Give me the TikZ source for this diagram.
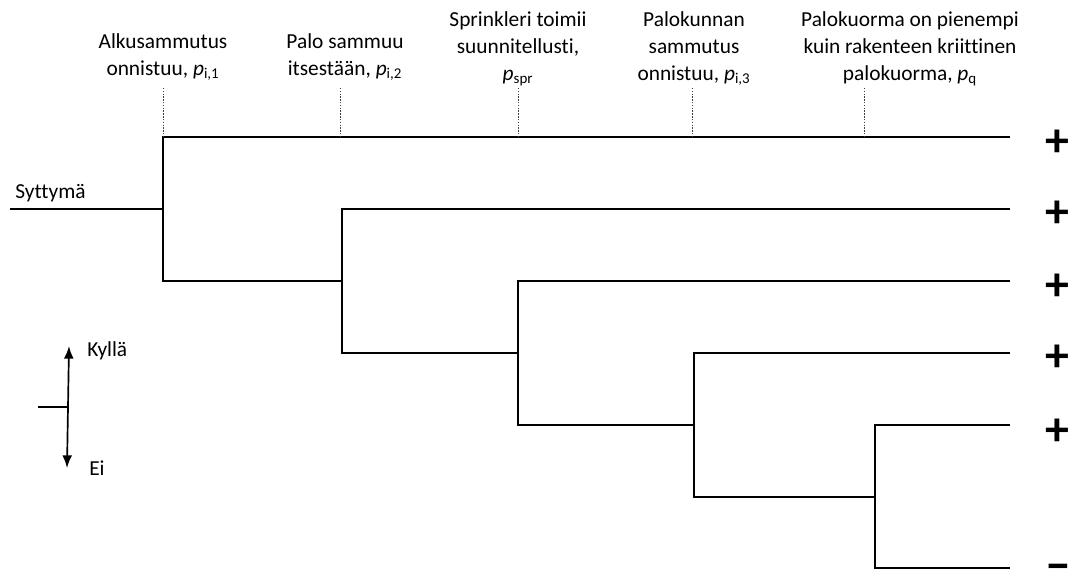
\documentclass[tikz,border=0pt]{standalone}
\usepackage{fontspec}
\setmainfont[Ligatures=NoCommon]{Carlito}
\usetikzlibrary{arrows.meta}

\begin{document}
\begin{tikzpicture}[x=0.025cm, y=-0.025cm, font=\fontsize{15.2}{19.2}\selectfont,
  branch/.style = {line width=1.2pt},
  guide/.style = {dash pattern=on 1pt off 1pt, line width=0.5pt, black!75},
  label/.style = {align=center, anchor=south, inner sep=0pt},
  sign/.style = {font=\fontsize{34}{34}\selectfont\bfseries, inner sep=0pt, anchor=base}]
\useasboundingbox (0,0) rectangle (1072,577);

% branch points
\coordinate (0) at (10,209);
\coordinate (1) at (163,209);
\coordinate (2) at (342,281);
\coordinate (3) at (518,353);
\coordinate (4) at (694,425);
\coordinate (5) at (875,497);
\coordinate (1b) at (163,281);
\coordinate (2b) at (342,353);
\coordinate (3b) at (518,425);
\coordinate (4b) at (694,497);
\coordinate (5b) at (875,568);

% outcome ends
\coordinate (e1) at (1010,137);
\coordinate (e2) at (1010,209);
\coordinate (e3) at (1010,281);
\coordinate (e4) at (1010,353);
\coordinate (e5) at (1010,425);
\coordinate (e6) at (1010,568);

\draw[branch] (0)--(1);
\draw[branch] (e1) -| (1b) -- (2);
\draw[branch] (e2) -| (2b) -- (3);
\draw[branch] (e3) -| (3b) -- (4);
\draw[branch] (e4) -| (4b) -- (5);
\draw[branch] (e5) -| (5b) -- (e6);

\node[anchor=base west, inner sep=0pt] (syt) at (15,198) {Syttymä};

\node[sign] (p1) at (1057,157) {+};
\node[sign] (p2) at (1057,228) {+};
\node[sign] (p3) at (1057,300) {+};
\node[sign] (p4) at (1057,371) {+};
\node[sign] (p5) at (1057,445) {+};
\node[sign] (m6) at (1058,581) {−};

% event headings
\node[label] (l1) at (163,81) {Alkusammutus\\onnistuu, \textit{p}\textsubscript{i,1}};
\node[label] (l2) at (345,81) {Palo sammuu\\itsestään, \textit{p}\textsubscript{i,2}};
\node[label] (l3) at (518,86) {Sprinkleri toimii\\suunnitellusti,\\\textit{p}\textsubscript{spr}};
\node[label] (l4) at (694,86) {Palokunnan\\sammutus\\onnistuu, \textit{p}\textsubscript{i,3}};
\node[label] (l5) at (910,86) {Palokuorma on pienempi\\kuin rakenteen kriittinen\\palokuorma, \textit{p}\textsubscript{q}};

\coordinate (g1) at (163,88);
\coordinate (g2) at (340,88);
\coordinate (g3) at (518,88);
\coordinate (g4) at (692,88);
\coordinate (g5) at (864,88);
\draw[guide] (g1) -- (g1 |- e1);
\draw[guide] (g2) -- (g2 |- e1);
\draw[guide] (g3) -- (g3 |- e1);
\draw[guide] (g4) -- (g4 |- e1);
\draw[guide] (g5) -- (g5 |- e1);

% legend
\coordinate (k0) at (38,407);
\coordinate (k) at (68,407);
\coordinate (ky) at (69,346);
\coordinate (ke) at (67,468);
\draw[branch] (k0)--(k);
\draw[branch, -{Latex[length=9pt, width=7pt]}] (k)--(ky);
\draw[branch, -{Latex[length=9pt, width=7pt]}] (k)--(ke);
\node[anchor=base west, inner sep=0pt] (kylla) at (87,356) {Kyllä};
\node[anchor=base west, inner sep=0pt] (ei) at (89,475) {Ei};
\end{tikzpicture}
\end{document}
